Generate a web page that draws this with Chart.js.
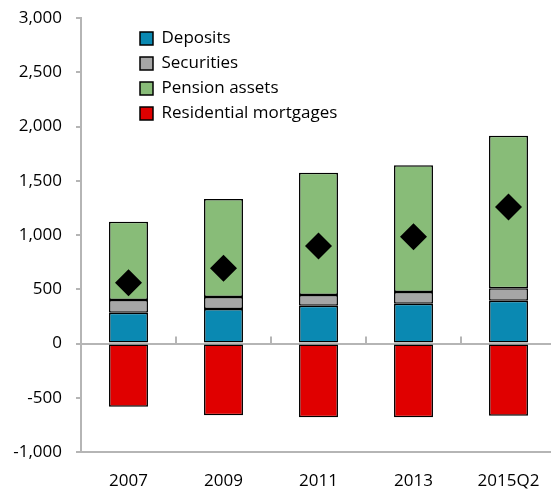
<!DOCTYPE html>
<html>
<head>
<meta charset="utf-8">
<script src="https://cdn.jsdelivr.net/npm/chart.js@4"></script>
<style>
    html, body { margin: 0; padding: 0; background: #fff; overflow: hidden; }
    canvas { display: block; }
</style>
</head>
<body>
<canvas id="chart" width="556" height="494"></canvas>
<script>
const categories = ['2007', '2009', '2011', '2013', '2015Q2']
const deposits = [284, 318, 348, 367, 395]
const securities = [117, 111, 99, 108, 114]
const pensionAssets = [722, 903, 1127, 1167, 1406]
const mortgages = [-582, -662, -680, -680, -665]
const netPosition = [560, 693, 899, 984, 1258]
const yTicks = { min: -1000, max: 3000, step: 500 }

const axisGray = '#b5b5b5'
const font = { family: "'Open Sans', 'Noto Sans', sans-serif", size: 17 }

const barStyle = (label, data, color) => ({
    type: 'bar',
    label,
    data,
    backgroundColor: color,
    borderColor: '#000',
    borderWidth: 1.5,
    borderSkipped: false,
    stack: 'assets',
    barPercentage: 0.41,
    categoryPercentage: 1,
    order: 2,
})

// moves the legend inside the plot area, next to the first bars
const legendShift = {
    id: 'legendShift',
    afterLayout(chart) {
        chart.legend.left = chart.chartArea.left + 51
        chart.legend.top = chart.chartArea.top + 4
    },
}

// small tick marks on the zero line between categories
const zeroTicks = {
    id: 'zeroTicks',
    afterDatasetsDraw(chart) {
        const { ctx, scales: { x, y } } = chart
        const y0 = y.getPixelForValue(0)
        const half = (x.getPixelForValue(1) - x.getPixelForValue(0)) / 2
        ctx.save()
        ctx.strokeStyle = axisGray
        ctx.lineWidth = 2
        ctx.beginPath()
        for (let i = 0; i < categories.length - 1; i++) {
            const px = x.getPixelForValue(i) + half
            ctx.moveTo(px, y0)
            ctx.lineTo(px, y0 - 7)
        }
        ctx.stroke()
        ctx.restore()
    },
}

new Chart(document.getElementById('chart'), {
    data: {
        labels: categories,
        datasets: [
            barStyle('Deposits', deposits, '#0a89b2'),
            barStyle('Securities', securities, '#a6a6a6'),
            barStyle('Pension assets', pensionAssets, '#88bc78'),
            barStyle('Residential mortgages', mortgages, '#e00000'),
            {
                type: 'line',
                label: 'Net',
                data: netPosition,
                showLine: false,
                stack: 'net',
                pointStyle: 'rectRot',
                pointRadius: 13.5,
                pointHoverRadius: 13.5,
                backgroundColor: '#000',
                borderColor: '#000',
                borderWidth: 0,
                order: 1,
            },
        ],
    },
    options: {
        responsive: false,
        animation: false,
        layout: { autoPadding: false, padding: { left: 0, right: 0, top: 18, bottom: 0 } },
        plugins: {
            legend: {
                position: 'chartArea',
                align: 'start',
                labels: {
                    font,
                    color: '#000',
                    boxWidth: 13,
                    boxHeight: 13,
                    padding: 8,
                    filter: item => item.text !== 'Net',
                },
            },
            tooltip: { enabled: false },
        },
        scales: {
            x: {
                stacked: true,
                grid: { display: false, drawTicks: false },
                border: { display: true, color: axisGray, width: 2 },
                ticks: { font, color: '#000', padding: 19 },
                afterFit: scale => {
                    scale.height = 42
                    scale.paddingLeft = 0
                    scale.paddingRight = 0
                },
            },
            y: {
                stacked: true,
                min: yTicks.min,
                max: yTicks.max,
                ticks: {
                    stepSize: yTicks.step,
                    font,
                    color: '#000',
                    padding: 14,
                    callback: v => v.toLocaleString('en-US'),
                },
                grid: {
                    color: ctx => ctx.tick && ctx.tick.value === 0 ? axisGray : 'rgba(0,0,0,0)',
                    lineWidth: 2,
                    tickColor: axisGray,
                    tickLength: 5,
                },
                border: { display: true, color: axisGray, width: 2 },
                afterFit: scale => {
                    scale.width = 81
                    scale.paddingTop = 0
                    scale.paddingBottom = 0
                },
            },
        },
    },
    plugins: [legendShift, zeroTicks],
})
</script>
</body>
</html>
